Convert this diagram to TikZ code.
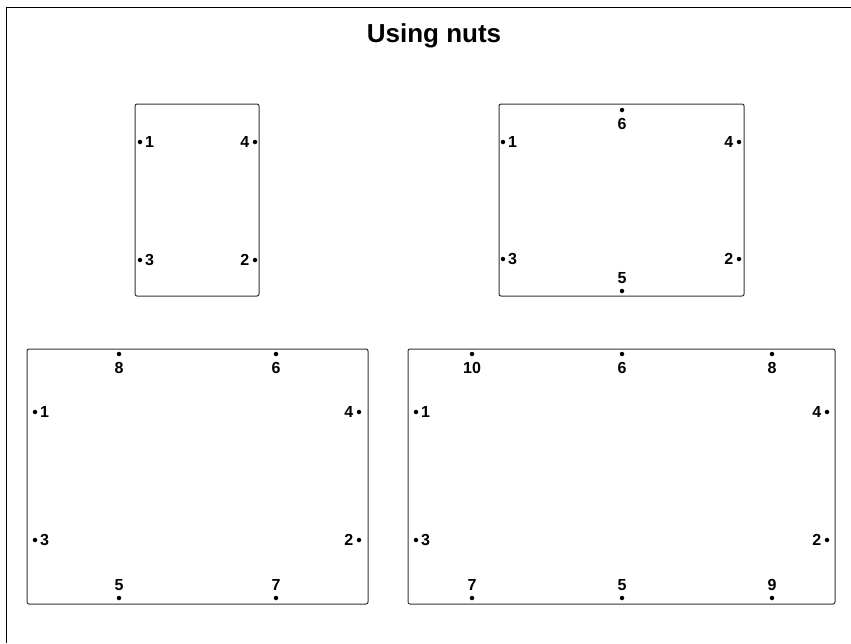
\documentclass[tikz,border=0pt]{standalone}
\usepackage{fontspec}
\setmainfont{Liberation Sans}
\usetikzlibrary{positioning}
\tikzset{
  plate/.style={draw=black!80, line width=1pt, rounded corners=2pt, inner sep=0pt},
  nut/.style={circle, fill=black, minimum size=4.5pt, inner sep=0pt},
  lbl/.style={font=\bfseries\fontsize{16}{19}\selectfont, inner sep=0pt},
  ttl/.style={font=\bfseries\fontsize{26}{30}\selectfont, inner sep=0pt, anchor=base},
  frame/.style={draw=black, line width=1.6pt}
}
\begin{document}
\begin{tikzpicture}[x=1pt, y=-1pt]
  \useasboundingbox (0,0) rectangle (851,643);
  \draw[frame] (6.5,643) |- (851,7.5);
  \node[ttl] (title) at (434,42.5) {Using nuts};
  % four nuts
  \node[plate, minimum width=124pt, minimum height=192pt] (pa) at (197,200) {};
  \node[nut] (a1) at (140,142) {}; \node[lbl, right=2.5pt of a1] {1};
  \node[nut] (a4) at (255,142) {}; \node[lbl, left=3pt of a4] {4};
  \node[nut] (a3) at (140,260) {}; \node[lbl, right=2.5pt of a3] {3};
  \node[nut] (a2) at (255,260) {}; \node[lbl, left=3pt of a2] {2};
  % six nuts
  \node[plate, minimum width=245pt, minimum height=192pt] (pb) at (621.5,200) {};
  \node[nut] (b1) at (503,142) {}; \node[lbl, right=2.5pt of b1] {1};
  \node[nut] (b4) at (739,142) {}; \node[lbl, left=3pt of b4] {4};
  \node[nut] (b3) at (503,259) {}; \node[lbl, right=2.5pt of b3] {3};
  \node[nut] (b2) at (739,259) {}; \node[lbl, left=3pt of b2] {2};
  \node[nut] (b6) at (622,110) {}; \node[lbl, below=5.5pt of b6] {6};
  \node[nut] (b5) at (622,291) {}; \node[lbl, above=4.5pt of b5] {5};
  % eight nuts
  \node[plate, minimum width=341pt, minimum height=255pt] (pc) at (197.5,476.5) {};
  \node[nut] (c1) at (35,412) {}; \node[lbl, right=2.5pt of c1] {1};
  \node[nut] (c4) at (359,412) {}; \node[lbl, left=3pt of c4] {4};
  \node[nut] (c3) at (35,540) {}; \node[lbl, right=2.5pt of c3] {3};
  \node[nut] (c2) at (359,540) {}; \node[lbl, left=3pt of c2] {2};
  \node[nut] (c8) at (119,354) {}; \node[lbl, below=5.5pt of c8] {8};
  \node[nut] (c6) at (276,354) {}; \node[lbl, below=5.5pt of c6] {6};
  \node[nut] (c5) at (119,598) {}; \node[lbl, above=4.5pt of c5] {5};
  \node[nut] (c7) at (276,598) {}; \node[lbl, above=4.5pt of c7] {7};
  % ten nuts
  \node[plate, minimum width=427pt, minimum height=255pt] (pd) at (621.5,476.5) {};
  \node[nut] (d1) at (416,412) {}; \node[lbl, right=2.5pt of d1] {1};
  \node[nut] (d4) at (827,412) {}; \node[lbl, left=3pt of d4] {4};
  \node[nut] (d3) at (416,540) {}; \node[lbl, right=2.5pt of d3] {3};
  \node[nut] (d2) at (827,540) {}; \node[lbl, left=3pt of d2] {2};
  \node[nut] (d10) at (472,354) {}; \node[lbl, below=5.5pt of d10] {10};
  \node[nut] (d6) at (622,354) {}; \node[lbl, below=5.5pt of d6] {6};
  \node[nut] (d8) at (772,354) {}; \node[lbl, below=5.5pt of d8] {8};
  \node[nut] (d7) at (472,598) {}; \node[lbl, above=4.5pt of d7] {7};
  \node[nut] (d5) at (622,598) {}; \node[lbl, above=4.5pt of d5] {5};
  \node[nut] (d9) at (772,598) {}; \node[lbl, above=4.5pt of d9] {9};
\end{tikzpicture}
\end{document}
